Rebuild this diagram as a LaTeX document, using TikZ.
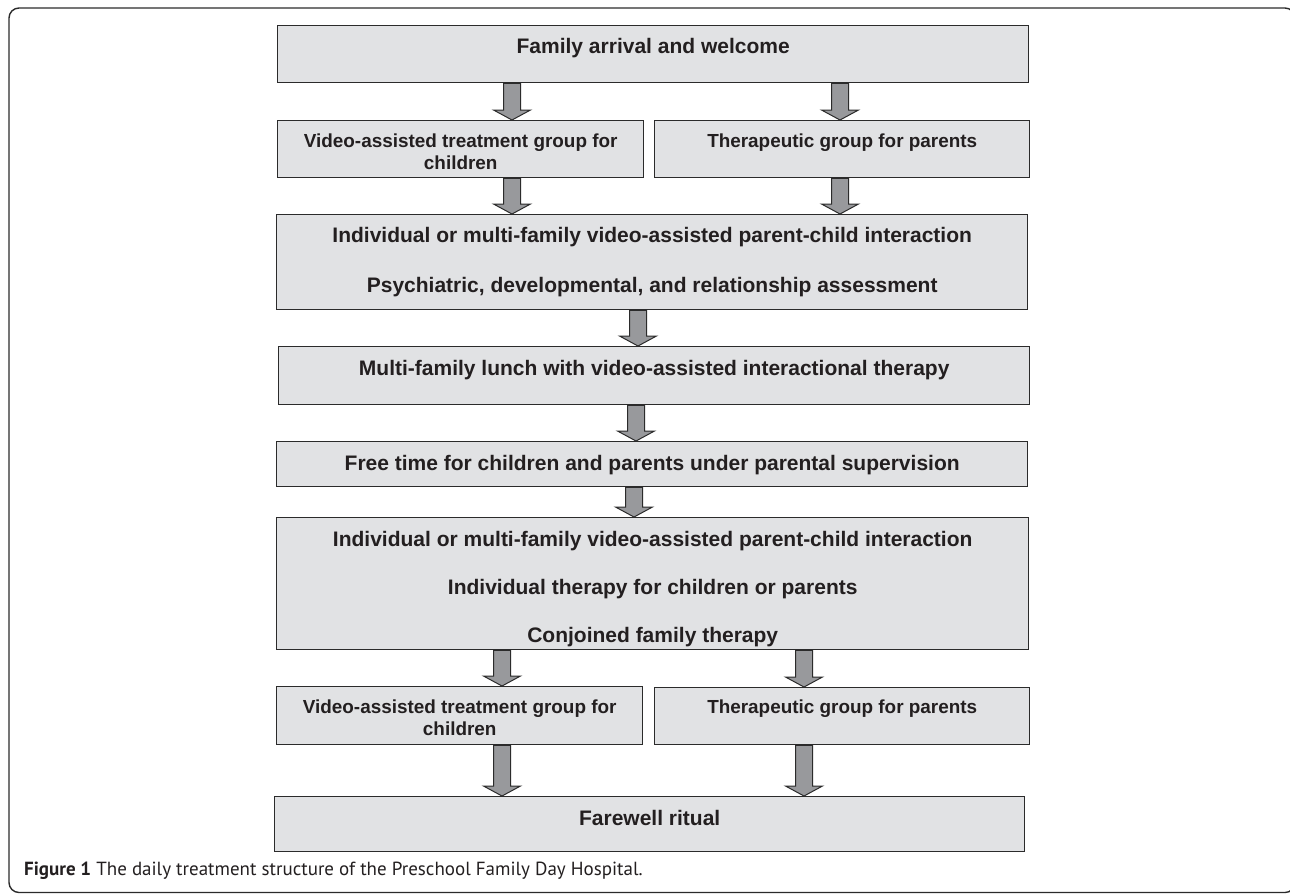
\documentclass[tikz,border=0pt]{standalone}
\usepackage{fontspec}
\setmainfont{Liberation Sans}
\newfontfamily\capfont{PT Sans}
\usetikzlibrary{calc}
\definecolor{boxfill}{HTML}{E1E2E4}
\definecolor{boxline}{HTML}{2B2B2B}
\definecolor{arrfill}{HTML}{98999C}
\definecolor{txtcol}{HTML}{231F20}
\tikzset{
  box/.style={draw=boxline, fill=boxfill, line width=1.4pt, inner sep=0pt, anchor=north west},
  lbl/.style={anchor=base, inner sep=0pt, font=\fontsize{18.9}{22}\selectfont\bfseries, text=txtcol},
  lblw/.style={lbl, font=\fontsize{21}{24}\selectfont\bfseries},
  barrow/.style={draw=boxline, fill=arrfill, line width=1pt, line join=miter},
  frame/.style={draw=boxline, line width=1.4pt, rounded corners=10pt},
}
\newcommand\blockarrow[3]{%
  \path (#1.south -| #3,0) coordinate (bas) (#2.north -| #3,0) coordinate (tip);
  \draw[barrow] let \p1=(bas), \p2=(tip) in
    (\x1-8.5pt,\y1) -- (\x1-8.5pt,\y2+10pt) -- (\x1-18.5pt,\y2+10pt) -- (\x2,\y2)
    -- (\x1+18.5pt,\y2+10pt) -- (\x1+8.5pt,\y2+10pt) -- (\x1+8.5pt,\y1) -- cycle;}
\begin{document}
\begin{tikzpicture}[x=1pt,y=-1pt]
\useasboundingbox (0,0) rectangle (1290,895);
\draw[frame] (9,8) rectangle (1295,892.5);
% boxes
\node[box, minimum width=751pt, minimum height=57pt] (b1) at (277,25) {};
\node[box, minimum width=366pt, minimum height=57pt] (b2) at (277,120) {};
\node[box, minimum width=375pt, minimum height=57pt] (b3) at (654,120) {};
\node[box, minimum width=751pt, minimum height=95pt] (b4) at (276,214) {};
\node[box, minimum width=751pt, minimum height=58pt] (b5) at (278,346) {};
\node[box, minimum width=751pt, minimum height=45pt] (b6) at (276,441) {};
\node[box, minimum width=752pt, minimum height=132pt] (b7) at (276,517) {};
\node[box, minimum width=366pt, minimum height=58pt] (b8) at (276,686) {};
\node[box, minimum width=375pt, minimum height=57pt] (b9) at (654,687) {};
\node[box, minimum width=750pt, minimum height=55pt] (b10) at (274,796) {};
% texts
\node[lblw] (t1) at (b1.north |- 0,53) {Family arrival and welcome};
\node[lbl] (t2a) at (b2.north |- 0,147) {Video-assisted treatment group for};
\node[lbl] (t2b) at (b2.north |- 0,169) {children};
\node[lbl] (t3) at (b3.north |- 0,147) {Therapeutic group for parents};
\node[lblw] (t4a) at (b4.north |- 0,242) {Individual or multi-family video-assisted parent-child interaction};
\node[lblw] (t4b) at (b4.north |- 0,292) {Psychiatric, developmental, and relationship assessment};
\node[lblw] (t5) at (b5.north |- 0,375) {Multi-family lunch with video-assisted interactional therapy};
\node[lblw] (t6) at (b6.north |- 0,470) {Free time for children and parents under parental supervision};
\node[lblw] (t7a) at (b7.north |- 0,546) {Individual or multi-family video-assisted parent-child interaction};
\node[lblw] (t7b) at (b7.north |- 0,594.5) {Individual therapy for children or parents};
\node[lblw] (t7c) at (b7.north |- 0,642) {Conjoined family therapy};
\node[lbl] (t8a) at (b8.north |- 0,713) {Video-assisted treatment group for};
\node[lbl] (t8b) at (b8.north |- 0,735) {children};
\node[lbl] (t9) at (b9.north |- 0,713) {Therapeutic group for parents};
\node[lblw] (t10) at (b10.north |- 0,825.5) {Farewell ritual};
% arrows
\blockarrow{b1}{b2}{512}
\blockarrow{b1}{b3}{840}
\blockarrow{b2}{b4}{512}
\blockarrow{b3}{b4}{840}
\blockarrow{b4}{b5}{638}
\blockarrow{b5}{b6}{636}
\blockarrow{b6}{b7}{634}
\blockarrow{b7}{b8}{502}
\blockarrow{b7}{b9}{804}
\blockarrow{b8}{b10}{502}
\blockarrow{b9}{b10}{804}
% caption
\node[anchor=base west, inner sep=0pt, font=\capfont\fontsize{19}{22}\selectfont, text=txtcol] (cap) at (24,875) {\textbf{Figure 1} The daily treatment structure of the Preschool Family Day Hospital.};
\end{tikzpicture}
\end{document}
